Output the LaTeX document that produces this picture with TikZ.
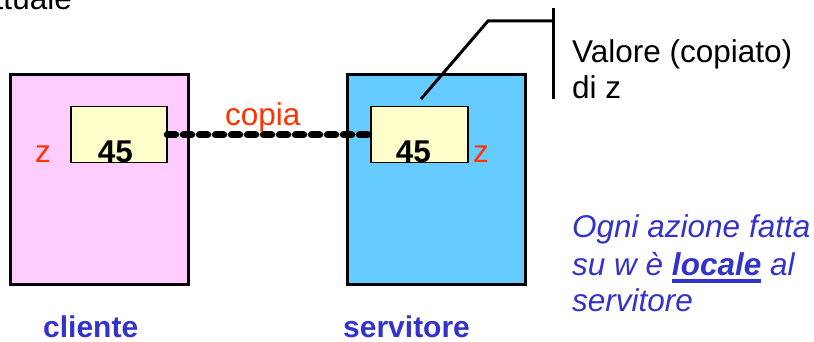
\documentclass[tikz,border=0pt]{standalone}
\usepackage{fontspec}
\setmainfont{Liberation Sans}
\newcommand\myuline[1]{\setbox0\hbox{#1}\rlap{\vrule width\wd0 height -3.5pt depth 7.5pt}\box0\relax}
\definecolor{txtblue}{HTML}{3333CC}
\definecolor{txtred}{HTML}{FF3300}
\definecolor{pinkbox}{HTML}{FFCCFF}
\definecolor{cyanbox}{HTML}{66CCFF}
\definecolor{yelbox}{HTML}{FFFFCC}
\tikzset{
  big/.style={font=\fontsize{31.5}{36}\selectfont, inner sep=0pt},
  outerbox/.style={draw=black, line width=3pt, anchor=north west, minimum width=178pt, minimum height=210pt, inner sep=0pt},
  cellbox/.style={draw=black, line width=1.5pt, fill=yelbox, anchor=north west, minimum height=56pt, inner sep=0pt},
  value/.style={big, font=\fontsize{31.5}{36}\selectfont\bfseries, anchor=base},
  varname/.style={big, text=txtred, anchor=base west},
  caption/.style={big, font=\fontsize{30}{36}\selectfont\bfseries, text=txtblue, anchor=base west},
  note/.style={big, font=\fontsize{31.5}{36}\selectfont\itshape, text=txtblue, anchor=base west},
  plain/.style={big, anchor=base west},
  chain/.style={line width=7.5pt, line cap=round, dash pattern=on 8pt off 8pt},
  callout/.style={line width=3pt}
}
\begin{document}
\begin{tikzpicture}[x=1pt,y=-1pt]
\useasboundingbox (0,0) rectangle (814,342);
\clip (0,0) rectangle (814,342);
% cut-off title text
\node[big, anchor=base east] (title) at (72,10) {attuale};
% boxes
\node[outerbox, fill=pinkbox] (cli) at (9,73) {};
\node[outerbox, fill=cyanbox] (srv) at (346,73) {};
\node[cellbox, minimum width=96pt] (ly) at (70,106) {};
\node[cellbox, minimum width=97pt] (ry) at (370,106) {};
\node[value] (lv) at (115.5,163) {45};
\node[value] (rv) at (413.5,163) {45};
\node[varname] (lz) at (35,162) {z};
\node[varname] (rz) at (473,162) {z};
% copy connector
\node[varname] (copia) at (225,126) {copia};
\draw[chain] (ly.east) -- (ry.west);
% callout
\coordinate (c0) at (421,99);
\coordinate (c1) at (488,21);
\coordinate (c2) at (553,21);
\coordinate (bt) at (553,8);
\coordinate (bb) at (553,99);
\draw[callout] (c0) -- (c1) -- (c2);
\draw[callout] (bt) -- (bb);
\node[plain] (v1) at (572,63) {Valore (copiato)};
\node[plain] (v2) at (572,99) {di z};
% note
\node[note] (n1) at (572,237) {Ogni azione fatta};
\node[note] (n2) at (572,275) {su w è \myuline{\bfseries locale} al};
\node[note] (n3) at (572,311) {servitore};
% captions
\node[caption] (lc) at (43,337) {cliente};
\node[caption] (rc) at (343,337) {servitore};
\end{tikzpicture}
\end{document}
